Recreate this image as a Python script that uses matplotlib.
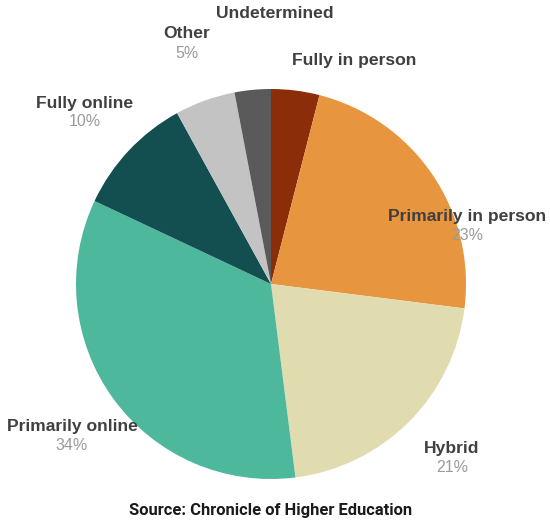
import matplotlib
matplotlib.use('Agg')
import matplotlib.pyplot as plt

# 数据
labels = ['Fully in person', 'Primarily in person', 'Hybrid', 'Primarily online',
          'Fully online', 'Other', 'Undetermined']
values = [4, 23, 21, 34, 10, 5, 3]
pct_text = ['', '23%', '21%', '34%', '10%', '5%', '']
colors = ['#8a2d08', '#e8953f', '#e1dcb0', '#4db89c', '#134f50', '#c3c3c3', '#5a5a5a']

# 标签位置 (像素, 以左上角为原点)
label_pos = [(354, 60), (467, 217), (452, 448), (72, 426),
             (85, 103), (187, 34), (275, 13)]

W, H = 550, 530
fig = plt.figure(figsize=(W / 100, H / 100), dpi=100)
ax = fig.add_axes([0, 0, 1, 1])

cx, cy, r = 271, 284, 195
ax.pie(values, colors=colors, startangle=90, counterclock=False,
       radius=1, center=(0, 0), wedgeprops=dict(linewidth=0))
ax.set_xlim(-cx / r, (W - cx) / r)
ax.set_ylim(-(H - cy) / r, cy / r)
ax.set_aspect('equal')
ax.axis('off')

for name, pct, (px, py) in zip(labels, pct_text, label_pos):
    fig.text(px / W, 1 - py / H, name, ha='center', va='center',
             fontsize=12.6, fontweight='bold', color='#404040',
             family='Liberation Sans')
    if pct:
        fig.text(px / W, 1 - (py + 19) / H, pct, ha='center', va='center',
                 fontsize=11.5, color='#9a9a9a', family='Liberation Sans')

fig.text(271 / W, 1 - 511 / H, 'Source: Chronicle of Higher Education',
         ha='center', va='center', fontsize=11.9, fontweight='bold',
         color='#1a1a1a', family='Roboto')

fig.savefig('out.png', dpi=100, facecolor='white')
